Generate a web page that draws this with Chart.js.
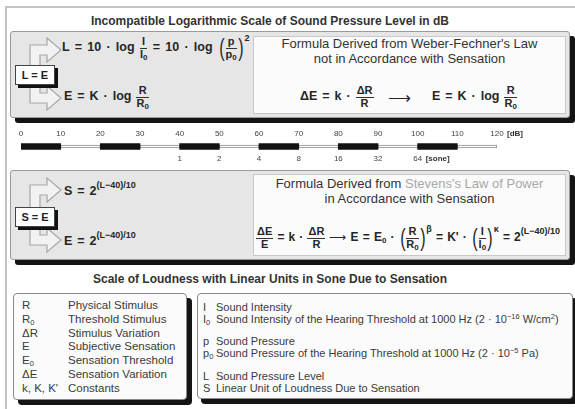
<!DOCTYPE html>
<html><head><meta charset="utf-8">
<script src="https://cdn.jsdelivr.net/npm/chart.js@4.4.0/dist/chart.umd.min.js"></script>
<style>
html,body{margin:0;padding:0;background:#fff;}
body{width:575px;height:409px;overflow:hidden;position:relative;font-family:'Liberation Sans',Arial,sans-serif;color:#333;}
.a{position:absolute;white-space:nowrap;}
.frame{left:5px;top:6px;width:620px;height:440px;border:2px solid #c4c4c4;box-sizing:border-box;}
.title{left:0;width:540px;text-align:center;font-weight:bold;font-size:12px;color:#333;}
.box{background:#e6e6e6;border:1px solid #9a9a9a;border-radius:3px;box-sizing:border-box;box-shadow:5px 5px 0 #141414;}
.panel{background:#fbfbfb;border:1px solid #c8c8c8;box-sizing:border-box;}
.hdr{text-align:center;font-size:13px;line-height:15px;color:#333;}
.f{font-weight:bold;font-size:12.5px;color:#262626;line-height:1;word-spacing:1.5px;}
.fr{display:inline-block;vertical-align:middle;text-align:center;line-height:1.05;font-size:11px;}
.fr span{display:block;}
.fr .n{border-bottom:1px solid #333;padding:0 1px;}
.par{font-size:23px;font-weight:normal;vertical-align:middle;line-height:1;display:inline-block;transform:scaleX(0.7);}
sub{font-size:8px;vertical-align:-2px;line-height:0;}
sup{font-size:9px;vertical-align:7px;line-height:0;}
.eqbox{background:#fff;border:1px solid #444;box-sizing:border-box;box-shadow:3px 3px 0 #111;font-weight:bold;font-size:11px;text-align:center;line-height:18px;color:#222;word-spacing:0;}
.leg{background:#fbfbfb;border:1px solid #8a8a8a;border-radius:4px;box-sizing:border-box;box-shadow:5px 5px 0 #141414;}
.lt{font-size:11.5px;line-height:13.8px;color:#3a3a3a;}
.lt sub{font-size:7.5px;vertical-align:-2px;line-height:0;}
.lt sup{font-size:7.5px;vertical-align:4px;line-height:0;}
.rt{font-size:11px;line-height:11.5px;}
</style></head>
<body>
<div class="a frame"></div>
<div class="a title" style="top:14px;">Incompatible Logarithmic Scale of Sound Pressure Level in dB</div>

<div class="a box" style="left:10px;top:31px;width:560px;height:87px;"></div>
<div class="a panel" style="left:253px;top:36px;width:313px;height:78px;"></div>
<div class="a hdr" style="left:253px;top:36px;width:313px;">Formula Derived from Weber-Fechner's Law<br>not in Accordance with Sensation</div>

<div class="a box" style="left:10px;top:170px;width:560px;height:90px;"></div>
<div class="a panel" style="left:253px;top:174px;width:313px;height:82px;"></div>
<div class="a hdr" style="left:253px;top:176px;width:313px;">Formula Derived from <span style="color:#a8a8a8">Stevens's Law of Power</span><br>in Accordance with Sensation</div>

<svg class="a" style="left:0;top:0;" width="575" height="409">
 <g fill="#f2f2f2" stroke="#a6a6a6" stroke-width="1.2" stroke-linejoin="miter">
  <path d="M30,66 L30,45 L47,45 L47,38 L61,50 L47,62 L47,55 L40,55 L40,66 Z"/>
  <path d="M30,84 L30,103 L47,103 L47,110 L61,98 L47,86 L47,93 L40,93 L40,84 Z"/>
  <path d="M30,208 L30,185 L47,185 L47,178 L61,190 L47,202 L47,195 L40,195 L40,208 Z"/>
  <path d="M30,226 L30,245 L47,245 L47,252 L61,240 L47,228 L47,235 L40,235 L40,226 Z"/>
 </g>
</svg>

<div class="a eqbox" style="left:15px;top:65px;width:40px;height:20px;">L = E</div>
<div class="a eqbox" style="left:15px;top:207px;width:40px;height:20px;">S = E</div>

<!-- box 1 formulas -->
<div class="a f" style="left:62px;top:36px;word-spacing:1.8px;">L = 10 · log <span class="fr"><span class="n">I</span><span>I<sub>0</sub></span></span> = 10 · log <span class="par">(</span><span class="fr"><span class="n">p</span><span>p<sub>0</sub></span></span><span class="par">)</span><sup style="vertical-align:10px">2</sup></div>
<div class="a f" style="left:64px;top:85px;">E = K · log <span class="fr"><span class="n">R</span><span>R<sub>0</sub></span></span></div>
<div class="a f" style="left:300px;top:85px;">ΔE = k · <span class="fr"><span class="n">ΔR</span><span>R</span></span></div>
<div class="a f" style="left:388px;top:90px;font-size:16px;font-weight:normal;">⟶</div>
<div class="a f" style="left:432px;top:85px;">E = K · log <span class="fr"><span class="n">R</span><span>R<sub>0</sub></span></span></div>

<!-- box 2 formulas -->
<div class="a f" style="left:64px;top:185px;">S = 2<sup>(L−40)/10</sup></div>
<div class="a f" style="left:64px;top:235px;">E = 2<sup>(L−40)/10</sup></div>
<div class="a f" style="left:256px;top:226px;font-size:12px;word-spacing:0.8px;"><span class="fr"><span class="n">ΔE</span><span>E</span></span> = k · <span class="fr"><span class="n">ΔR</span><span>R</span></span> <span style="font-weight:normal">⟶</span> E = E<sub>0</sub> · <span class="par">(</span><span class="fr"><span class="n">R</span><span>R<sub>0</sub></span></span><span class="par">)</span><sup style="vertical-align:9px">β</sup> = K' · <span class="par">(</span><span class="fr"><span class="n">I</span><span>I<sub>0</sub></span></span><span class="par">)</span><sup style="vertical-align:9px">κ</sup> = 2<sup>(L−40)/10</sup></div>

<!-- scale chart -->
<div class="a" style="left:0;top:128px;width:575px;height:37px;"><canvas id="c" width="575" height="37"></canvas></div>

<div class="a title" style="top:272px;">Scale of Loudness with Linear Units in Sone Due to Sensation</div>

<div class="a leg" style="left:13px;top:293px;width:174px;height:107px;"></div>
<div class="a lt" style="left:22px;top:299px;">R<br>R<sub>0</sub><br>ΔR<br>E<br>E<sub>0</sub><br>ΔE<br>k, K, K'</div>
<div class="a lt" style="left:68px;top:299px;">Physical Stimulus<br>Threshold Stimulus<br>Stimulus Variation<br>Subjective Sensation<br>Sensation Threshold<br>Sensation Variation<br>Constants</div>

<div class="a leg" style="left:197px;top:293px;width:376px;height:106px;box-shadow:4px 5px 0 #141414;"></div>
<div class="a lt rt" style="left:203px;top:302px;">I<br>I<sub>0</sub></div>
<div class="a lt rt" style="left:216px;top:302px;">Sound Intensity<br>Sound Intensity of the Hearing Threshold at 1000 Hz (2 · 10<sup>−16</sup> W/cm<sup>2</sup>)</div>
<div class="a lt rt" style="left:203px;top:336px;">p<br>p<sub>0</sub></div>
<div class="a lt rt" style="left:216px;top:336px;">Sound Pressure<br>Sound Pressure of the Hearing Threshold at 1000 Hz (2 · 10<sup>−5</sup> Pa)</div>
<div class="a lt rt" style="left:203px;top:371px;">L<br>S</div>
<div class="a lt rt" style="left:216px;top:371px;">Sound Pressure Level<br>Linear Unit of Loudness Due to Sensation</div>

<script>
// ---- data ----
const dbTicks = [0,10,20,30,40,50,60,70,80,90,100,110,120];
const darkSegments = [[0,10],[20,30],[40,50],[60,70],[80,90],[100,110]];
const lightSegments = [[10,20],[30,40],[50,60],[70,80],[90,100],[110,120]];
const soneDb = [40,50,60,70,80,90,100];
const soneValues = [1,2,4,8,16,32,64];
const dbUnit = '[dB]';
const soneUnit = '[sone]';

const FONT = "'Liberation Sans', Arial, sans-serif";
const unitPlugin = {
  id:'units',
  afterDraw(chart){
    const ctx = chart.ctx;
    const xs = chart.scales.x, xb = chart.scales.x2;
    ctx.save();
    ctx.font = 'bold 8px ' + FONT;
    ctx.fillStyle = '#333';
    ctx.textBaseline = 'middle';
    ctx.textAlign = 'left';
    ctx.fillText(dbUnit, xs.getPixelForValue(dbTicks[dbTicks.length-1]) + 10, (xs.top + xs.bottom)/2);
    ctx.fillText(soneUnit, xb.getPixelForValue(soneDb[soneDb.length-1]) + 8, (xb.top + xb.bottom)/2);
    ctx.restore();
  }
};

new Chart(document.getElementById('c'), {
  type:'bar',
  data:{
    labels:['dB'],
    datasets:[
      {data: lightSegments.map(s=>({x:s, y:'dB'})), backgroundColor:'#ffffff', borderColor:'#8a8a8a', borderWidth:1, borderSkipped:false, barThickness:3, grouped:false, order:2},
      {data: darkSegments.map(s=>({x:s, y:'dB'})), backgroundColor:'#121212', borderWidth:0, barThickness:6, grouped:false, order:1}
    ]
  },
  options:{
    indexAxis:'y', responsive:false, animation:false, devicePixelRatio:1,
    layout:{padding:{left:21,right:78,top:0,bottom:0}},
    plugins:{legend:{display:false}, tooltip:{enabled:false}},
    scales:{
      x:{type:'linear', position:'top', min:0, max:120,
         afterBuildTicks: ax => { ax.ticks = dbTicks.map(v=>({value:v})); },
         ticks:{autoSkip:false, maxRotation:0, padding:1, color:'#444', font:{size:8, family:FONT}},
         grid:{display:false, drawTicks:false}, border:{display:false}},
      x2:{type:'linear', position:'bottom', min:0, max:120,
         afterBuildTicks: ax => { ax.ticks = soneDb.map(v=>({value:v})); },
         ticks:{autoSkip:false, maxRotation:0, padding:1, color:'#444', font:{size:8, family:FONT},
                callback: v => { const i = soneDb.indexOf(v); return i>=0 ? String(soneValues[i]) : ''; }},
         grid:{display:false, drawTicks:false}, border:{display:false}},
      y:{display:false}
    }
  },
  plugins:[unitPlugin]
});
</script>
</body></html>
